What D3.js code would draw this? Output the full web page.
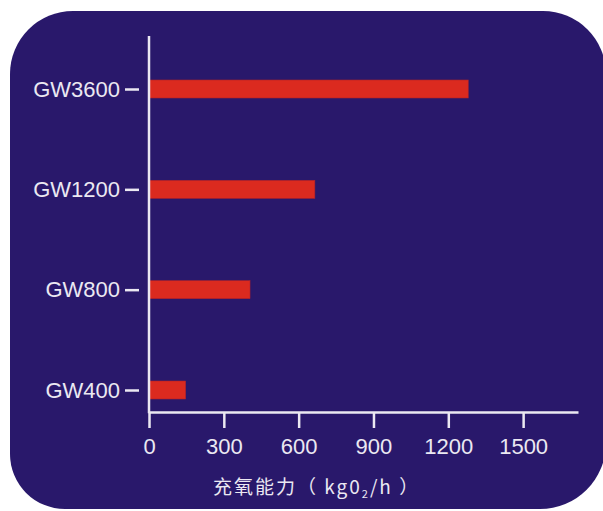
<!DOCTYPE html>
<html>
<head>
<meta charset="utf-8">
<script src="https://cdn.jsdelivr.net/npm/d3@7"></script>
<style>
  html, body { margin: 0; padding: 0; background: #ffffff; }
  svg { display: block; }
</style>
</head>
<body>
<svg id="chart" width="603" height="511"></svg>
<script>
// Aerator models and their oxygenation capacity (kgO2/h)
const categories = ["GW3600", "GW1200", "GW800", "GW400"];
const values = [1280, 665, 405, 147];
const xTicks = [0, 300, 600, 900, 1200, 1500];
const axisTitle = ["充氧能力（ kg0", "2", "/h ）"];

const W = 603, H = 511;
const panelColor = "#29186b";
const barColor = "#db2a1f";
const inkColor = "#ebe8f2";
const latin = "'Liberation Sans', Arial, sans-serif";

const svg = d3.select("#chart");

// rounded background panel, slightly different radius per corner
function roundedPanel(x0, y0, x1, y1, tl, tr, br, bl) {
  const p = d3.path();
  p.moveTo(x0 + tl, y0);
  p.lineTo(x1 - tr, y0);
  p.arcTo(x1, y0, x1, y0 + tr, tr);
  p.lineTo(x1, y1 - br);
  p.arcTo(x1, y1, x1 - br, y1, br);
  p.lineTo(x0 + bl, y1);
  p.arcTo(x0, y1, x0, y1 - bl, bl);
  p.lineTo(x0, y0 + tl);
  p.arcTo(x0, y0, x0 + tl, y0, tl);
  p.closePath();
  return p.toString();
}
svg.append("path")
  .attr("d", roundedPanel(10, 11, 606, 509, 63, 63, 66, 55))
  .attr("fill", panelColor);

const x = d3.scaleLinear().domain([0, 1720]).range([149, 578]);
const y = d3.scalePoint().domain(categories).range([89, 390]);
const barH = 18;
const baseY = 412;

// bars
svg.append("g").selectAll("rect")
  .data(categories)
  .join("rect")
  .attr("x", x(0))
  .attr("y", d => y(d) - barH / 2)
  .attr("width", (d, i) => x(values[i]) - x(0))
  .attr("height", barH)
  .attr("fill", barColor)
  .attr("stroke", "#b0222a")
  .attr("stroke-width", 0.6);

// x axis
const gx = svg.append("g")
  .attr("transform", `translate(0,${baseY})`)
  .call(d3.axisBottom(x).tickValues(xTicks).tickFormat(d3.format("d"))
    .tickSize(16).tickSizeOuter(0).tickPadding(10));
gx.select(".domain").attr("stroke", inkColor).attr("stroke-width", 2.5);
gx.selectAll(".tick line").attr("stroke", inkColor).attr("stroke-width", 2.5);
gx.selectAll(".tick text")
  .attr("fill", inkColor)
  .style("font-family", latin)
  .style("font-size", "22px");

// y axis: vertical line plus detached dash ticks
svg.append("line")
  .attr("x1", x(0)).attr("x2", x(0))
  .attr("y1", 36).attr("y2", baseY + 1.25)
  .attr("stroke", inkColor).attr("stroke-width", 2.5);

const gy = svg.append("g")
  .attr("transform", "translate(139,0)")
  .call(d3.axisLeft(y).tickSize(14).tickPadding(5));
gy.select(".domain").remove();
gy.selectAll(".tick line").attr("stroke", inkColor).attr("stroke-width", 2.5);
gy.selectAll(".tick text")
  .attr("fill", inkColor)
  .style("font-family", latin)
  .style("font-size", "22px");

// axis title
const title = svg.append("text")
  .attr("x", 213)
  .attr("y", 494)
  .attr("fill", inkColor)
  .style("font-family", "'Noto Sans CJK SC', sans-serif")
  .style("font-size", "19px")
  .style("letter-spacing", "2px");
title.append("tspan").text(axisTitle[0]);
title.append("tspan").attr("dy", 4).style("font-size", "11px").text(axisTitle[1]);
title.append("tspan").attr("dy", -4).text(axisTitle[2]);
</script>
</body>
</html>
